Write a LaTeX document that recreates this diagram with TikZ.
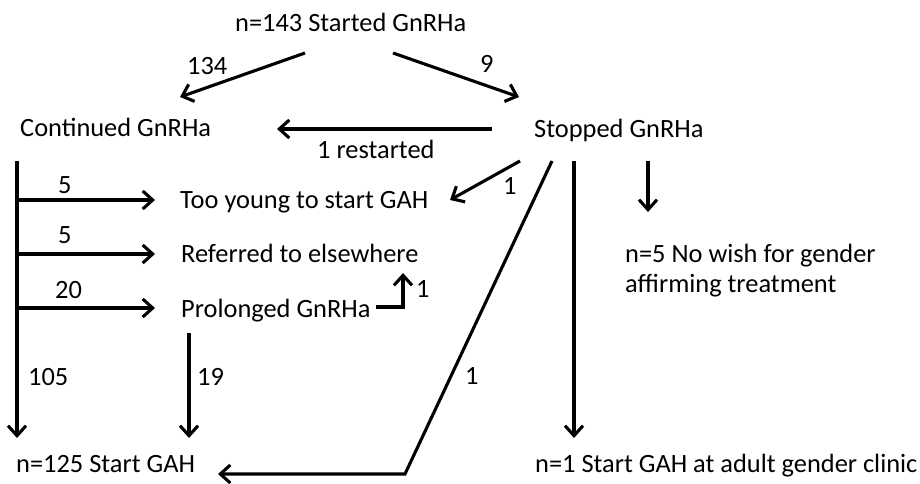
\documentclass[tikz,border=0pt]{standalone}
\usepackage{fontspec}
\setmainfont{Carlito}
\usetikzlibrary{arrows.meta}
\begin{document}
\begin{tikzpicture}[x=1pt,y=-1pt,
  txt/.style={anchor=base west,inner sep=0pt,font=\fontsize{26.4}{30}\selectfont},
  flow/.style={line width=3.1pt,-{Straight Barb[length=10pt,width=18pt,line width=3.1pt]}}]
\useasboundingbox (0,0) rectangle (920,484);
% texts
\node[txt] (start) at (235,32) {n=143 Started GnRHa};
\node[txt] (cont) at (20,136) {Continued GnRHa};
\node[txt] (stop) at (534,137) {Stopped GnRHa};
\node[txt] (lrest) at (317,158) {1 restarted};
\node[txt] (l134) at (187,75) {134};
\node[txt] (l9) at (480,73) {9};
\node[txt] (young) at (180,208) {Too young to start GAH};
\node[txt] (l5a) at (58,193) {5};
\node[txt] (l5b) at (58,243) {5};
\node[txt] (refer) at (181,262) {Referred to elsewhere};
\node[txt] (l20) at (55,298) {20};
\node[txt] (prol) at (181,317) {Prolonged GnRHa};
\node[txt] (l1e) at (416,297) {1};
\node[txt] (l105) at (28,385) {105};
\node[txt] (l19) at (197,385) {19};
\node[txt] (l1d) at (465,384) {1};
\node[txt] (l1y) at (503,194) {1};
\node[txt] (nowish) at (625,262) {n=5 No wish for gender};
\node[txt] (nowish2) at (625,292) {affirming treatment};
\node[txt] (gah) at (16,472) {n=125 Start GAH};
\node[txt] (adult) at (535,472) {n=1 Start GAH at adult gender clinic};
% coordinates
\coordinate (a1s) at (305,53);  \coordinate (a1e) at (180,97);
\coordinate (a2s) at (393,53);  \coordinate (a2e) at (519,97);
\coordinate (rs) at (492,129);  \coordinate (re) at (277,129);
\coordinate (vl) at (17,161);   \coordinate (vle) at (17,438);
\coordinate (b1) at (17,200);   \coordinate (b1e) at (155,200);
\coordinate (b2) at (17,254);   \coordinate (b2e) at (155,254);
\coordinate (b3) at (17,308);   \coordinate (b3e) at (155,308);
\coordinate (es) at (376,307);  \coordinate (ec) at (403,307); \coordinate (ee) at (403,273);
\coordinate (ps) at (189,333);  \coordinate (pe) at (189,438);
\coordinate (ds) at (552,161);  \coordinate (dc) at (405,474); \coordinate (de) at (218,474);
\coordinate (ys) at (520,161);  \coordinate (ye) at (450,200);
\coordinate (vs) at (574,161);  \coordinate (ve) at (574,438);
\coordinate (ns) at (648,161);  \coordinate (ne) at (648,212);
% connectors
\draw[flow] (a1s) -- (a1e);
\draw[flow] (a2s) -- (a2e);
\draw[flow] (rs) -- (re);
\draw[flow] (vl) -- (vle);
\draw[flow] (b1) -- (b1e);
\draw[flow] (b2) -- (b2e);
\draw[flow] (b3) -- (b3e);
\draw[flow] (es) -- (ec) -- (ee);
\draw[flow] (ps) -- (pe);
\draw[flow] (ds) -- (dc) -- (de);
\draw[flow] (ys) -- (ye);
\draw[flow] (vs) -- (ve);
\draw[flow] (ns) -- (ne);
\end{tikzpicture}
\end{document}
